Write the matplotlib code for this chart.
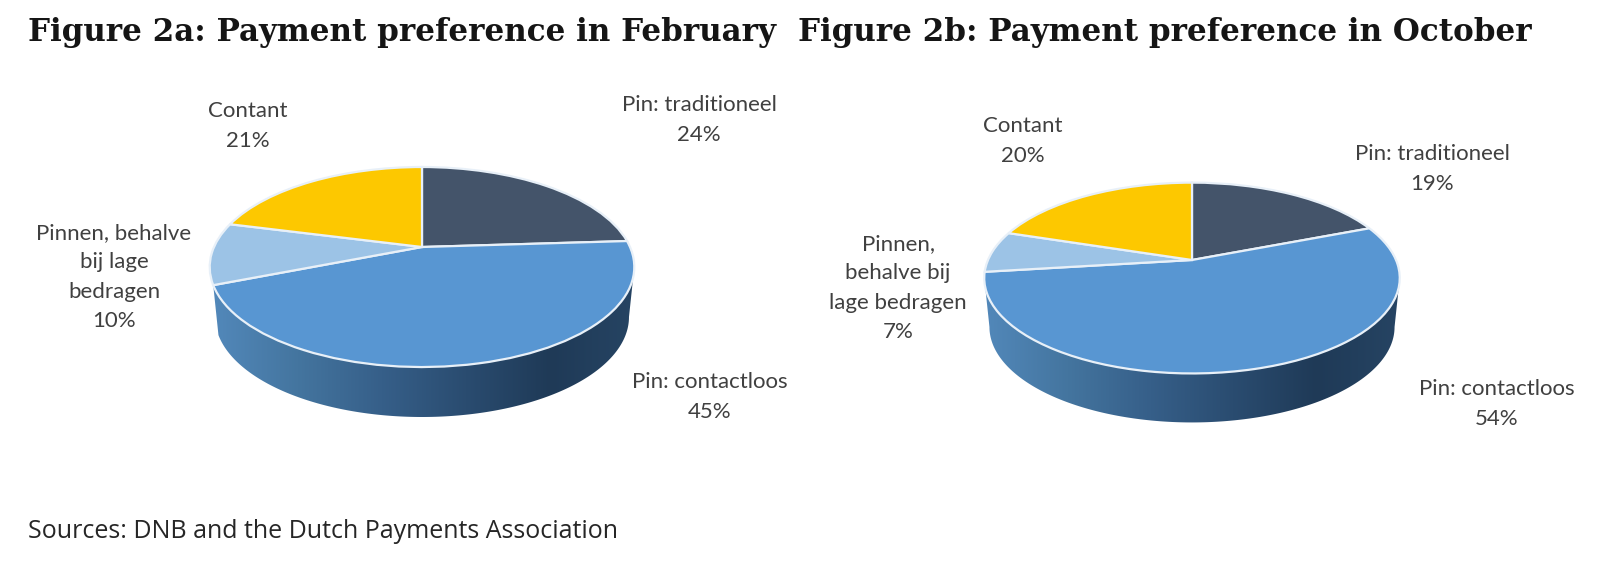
import numpy as np
import matplotlib
matplotlib.use("Agg")
import matplotlib.pyplot as plt
from matplotlib.colors import LinearSegmentedColormap
from matplotlib.patches import Polygon
from matplotlib.transforms import Transform

categories = ["Pin: traditioneel", "Pin: contactloos", "Pinnen, behalve bij lage bedragen", "Contant"]
feb_values = [24, 45, 10, 21]
oct_values = [19, 54, 7, 20]
feb_names = ["Pin: traditioneel", "Pin: contactloos", "Pinnen, behalve\nbij lage\nbedragen", "Contant"]
oct_names = ["Pin: traditioneel", "Pin: contactloos", "Pinnen,\nbehalve bij\nlage bedragen", "Contant"]
feb_title = "Figure 2a: Payment preference in February"
oct_title = "Figure 2b: Payment preference in October"
source = "Sources: DNB and the Dutch Payments Association"
colors = ["#44546a", "#5896d2", "#9cc3e6", "#fdc800"]

W, H = 1600, 566
fig = plt.figure(figsize=(W / 100, H / 100), dpi=100, facecolor="white")
ax = fig.add_axes([0, 0, 1, 1])

wall_cmap = LinearSegmentedColormap.from_list(
    "wall", ["#5288ba", "#44759f", "#365f89", "#2a4c70", "#1f3a57", "#264463"])


class Perspective(Transform):
    input_dims = 2
    output_dims = 2
    is_affine = False
    has_inverse = False

    def __init__(self, cx, cy, a, b, k):
        super().__init__()
        self.cx, self.cy, self.a, self.b, self.k = cx, cy, a, b, k

    def transform_non_affine(self, values):
        values = np.asarray(values, dtype=float)
        u, v = values[:, 0], values[:, 1]
        w = 1 + self.k * v
        return np.column_stack([self.cx + self.a * u / w, self.cy - self.b * v / w])


def tilted_pie(values, cx, cy, a, b, k, depth):
    persp = Perspective(cx, cy, a, b, k)
    wedges, _ = ax.pie(values, colors=colors, startangle=90, counterclock=False,
                       wedgeprops=dict(edgecolor="#e8f0f8", linewidth=1.6))
    for w in wedges:
        w.set_transform(persp + ax.transData)
        w.set_zorder(3)
    # side wall under the largest (front) wedge, from its end angles
    total = sum(values)
    start = values[0] / total * 360
    end = (values[0] + values[1]) / total * 360
    right = max(start, np.degrees(np.arccos(-k)))
    left = min(end, 360 - np.degrees(np.arccos(-k)))
    th = np.radians(np.linspace(right, left, 200))
    rim = persp.transform_non_affine(np.column_stack([np.sin(th), np.cos(th)]))
    low = rim + [0, depth]
    low[:, 0] = cx + (low[:, 0] - cx) * 0.975
    wall = Polygon(np.vstack([rim, low[::-1]]), closed=True, transform=ax.transData,
                   facecolor="none", edgecolor="none")
    ax.add_patch(wall)
    grad = np.linspace(0, 1, 256).reshape(1, -1)
    im = ax.imshow(grad, cmap=wall_cmap, aspect="auto", zorder=2,
                   extent=[rim[:, 0].min(), rim[:, 0].max(), low[:, 1].max() + 1, rim[:, 1].min()])
    im.set_clip_path(wall)


tilted_pie(feb_values, 422, 247, 208, 96, 0.20, 50)
tilted_pie(oct_values, 1192, 260, 204, 92, 0.189, 49)

ax.set_aspect("auto")
ax.set_xlim(0, W)
ax.set_ylim(H, 0)
ax.axis("off")

title_kw = dict(family="DejaVu Serif", weight="bold", fontsize=22.3, color="#151515",
                va="center", ha="left")
ax.text(28, 32, feb_title, **title_kw)
ax.text(798, 32, oct_title, **title_kw)

label_kw = dict(family="Lato", fontsize=16, color="#404040", ha="center", va="center",
                linespacing=1.6, multialignment="center")
feb_pos = [(699, 120), (710, 397), (114, 277), (248, 126)]
oct_pos = [(1432, 169), (1497, 404), (898, 288), (1023, 141)]
for names, vals, pos in [(feb_names, feb_values, feb_pos), (oct_names, oct_values, oct_pos)]:
    for n, v, (x, y) in zip(names, vals, pos):
        ax.text(x, y, f"{n}\n{v}%", **label_kw)

ax.text(28, 532, source, family="Open Sans", fontsize=18, color="#262626", va="center", ha="left")

fig.savefig("out.png", dpi=100, facecolor="white")
